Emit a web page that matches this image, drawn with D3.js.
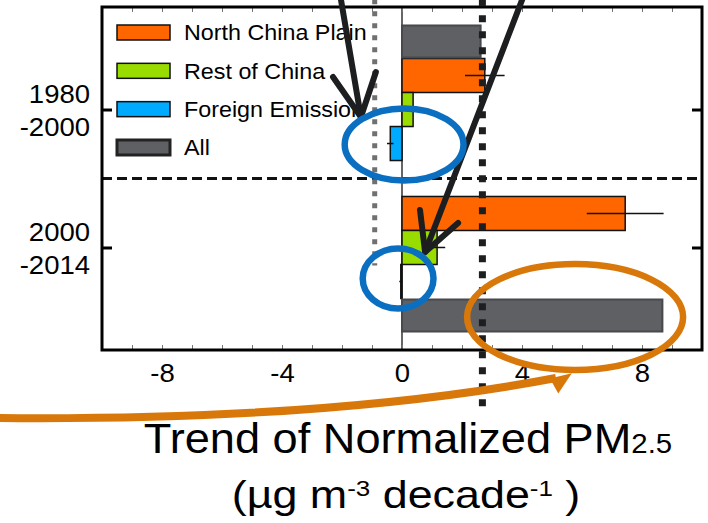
<!DOCTYPE html>
<html>
<head>
<meta charset="utf-8">
<script src="https://cdn.jsdelivr.net/npm/d3@7"></script>
<style>
  body { margin: 0; background: #fff; }
  svg { display: block; font-family: "Liberation Sans", Arial, Helvetica, sans-serif; }
</style>
</head>
<body>
<svg width="708" height="523"></svg>
<script>
// periods on the y axis (top to bottom)
var periods = ["1980-2000", "2000-2014"];
var periodLabels = [["1980", "-2000"], ["2000", "-2014"]];

var series = ["North China Plain", "Rest of China", "Foreign Emission", "All"];
var seriesColors = ["#ff6600", "#99dd00", "#00aaff", "#5f6064"];

// trend of normalized PM2.5 (ug m-3 decade-1), one value per period
var ncpTrend = [2.76, 7.44];
var ncpError = [0.66, 1.28];
var restTrend = [0.37, 1.17];
var restError = [0, 0.27];
var foreignTrend = [-0.39, -0.04];
var foreignError = [0.11, 0.05];
var allTrend = [2.62, 8.68];
var allError = [0, 0];

// bar order inside each period, top to bottom
var barOrder = [
  ["All", "North China Plain", "Rest of China", "Foreign Emission"],
  ["North China Plain", "Rest of China", "Foreign Emission", "All"]
];

var xTickLabels = [-8, -4, 0, 4, 8];
var xMinorTicks = d3.range(-10, 11, 1);

// dotted reference lines: trend value, from / to (in period units)
var refValues = [-0.91, 2.68];
var refFrom = [-0.8, -0.8];
var refTo = [1.13, 2.15];

// slide annotations, x in trend units, y in period units (0 = first period, 1 = second)
var arrowLines = [
  [[-2.03, -0.79], [-1.37, 0.054]],
  [[-2.3, -0.236], [-1.37, 0.054], [-0.87, -0.272]],
  [[4.03, -0.81], [0.77, 1.033]],
  [[0.6, 0.728], [0.77, 1.033], [1.87, 0.822]]
];
var blueRings = [[0.07, 0.254, 1.98, 0.261], [-0.13, 1.225, 1.18, 0.217]];
var orangeRing = [5.77, 1.504, 3.6, 0.384];
var orangeCurve = [[-13.47, 2.236], [-2.4, 2.257], [5.13, 1.946]];
var orangeHead = [[4.93, 1.949], [5.66, 1.912], [5.21, 2.059]];

var svg = d3.select("svg"),
  margin = { top: 7, right: 6, bottom: 173, left: 102 },
  width = +svg.attr("width") - margin.left - margin.right,
  height = +svg.attr("height") - margin.top - margin.bottom,
  g = svg
    .append("g")
    .attr("transform", "translate(" + margin.left + "," + margin.top + ")");

var x = d3.scaleLinear().domain([-10, 10]).range([0, width]);

var y = d3.scalePoint().domain(periods).range([0, height]).padding(0.743);

// period units -> pixels, used by the annotations
var yU = d3.scaleLinear().domain([0, 1]).range([y(periods[0]), y(periods[1])]);

var inner = d3.scaleBand().domain(d3.range(4)).range([0, y.step() * 0.986]);

var color = d3.scaleOrdinal().domain(series).range(seriesColors);

var trendTable = [ncpTrend, restTrend, foreignTrend, allTrend];
var errorTable = [ncpError, restError, foreignError, allError];

var bars = [];
periods.forEach(function (p, i) {
  series.forEach(function (s, j) {
    bars.push({ period: p, i: i, name: s, value: trendTable[j][i], err: errorTable[j][i] });
  });
});

function barY(d) {
  var order = barOrder[d.i];
  var slot = order.indexOf(d.name);
  var mid = order.indexOf("Rest of China");
  return y(d.period) + inner(slot) - inner(mid) - inner.bandwidth() / 2;
}

// zero line
g.append("line")
  .attr("x1", x(0)).attr("x2", x(0))
  .attr("y1", 0).attr("y2", height)
  .attr("stroke", "#333")
  .attr("stroke-width", 1.5);

// bars
g.append("g")
  .selectAll("rect")
  .data(bars)
  .enter()
  .append("rect")
  .attr("x", function (d) { return x(Math.min(0, d.value)); })
  .attr("y", function (d) { return barY(d) + (d.name == "All" ? 1 : 0); })
  .attr("width", function (d) { return Math.abs(x(d.value) - x(0)); })
  .attr("height", function (d) { return inner.bandwidth() - (d.name == "All" ? 2 : 0); })
  .attr("fill", function (d) { return color(d.name); })
  .attr("stroke", function (d) { return d.name == "All" ? "#48494c" : "#111"; })
  .attr("stroke-width", function (d) { return d.name == "All" ? 2 : 1.5; });

// error bars
g.append("g")
  .selectAll("line")
  .data(bars.filter(function (d) { return d.err > 0; }))
  .enter()
  .append("line")
  .attr("x1", function (d) { return x(d.value - d.err); })
  .attr("x2", function (d) { return x(d.value + d.err); })
  .attr("y1", function (d) { return barY(d) + inner.bandwidth() / 2; })
  .attr("y2", function (d) { return barY(d) + inner.bandwidth() / 2; })
  .attr("stroke", "#111")
  .attr("stroke-width", 1.5);

// dashed separator between the periods
var sepY = (y(periods[0]) + y(periods[1])) / 2;
g.append("line")
  .attr("x1", 0).attr("x2", width)
  .attr("y1", sepY).attr("y2", sepY)
  .attr("stroke", "#111")
  .attr("stroke-width", 3)
  .attr("stroke-dasharray", "10,5");

// axes: minor ticks inside the frame
var bottomAxis = g.append("g")
  .attr("class", "axis")
  .attr("transform", "translate(0," + height + ")")
  .call(
    d3.axisBottom(x)
      .tickValues(xMinorTicks)
      .tickSize(-5)
      .tickFormat(function (d) { return xTickLabels.indexOf(d) >= 0 ? String(d) : ""; })
  );
bottomAxis.select(".domain").remove();
bottomAxis.selectAll("line").attr("stroke", "#777");
bottomAxis.selectAll("text")
  .attr("y", 32)
  .attr("dy", 0)
  .attr("fill", "#000")
  .attr("font-family", "Liberation Sans, Arial, sans-serif")
  .attr("font-size", 25)
  .attr("transform", "scale(1.1,1)");

var topAxis = g.append("g")
  .call(d3.axisTop(x).tickValues(xMinorTicks).tickSize(-5).tickFormat(""));
topAxis.select(".domain").remove();
topAxis.selectAll("line").attr("stroke", "#777");

var leftAxis = g.append("g").call(d3.axisLeft(y).tickSize(-10).tickFormat(""));
leftAxis.select(".domain").remove();
leftAxis.selectAll("line").attr("stroke", "#000").attr("stroke-width", 3);

var rightAxis = g.append("g")
  .attr("transform", "translate(" + width + ",0)")
  .call(d3.axisRight(y).tickSize(-10).tickFormat(""));
rightAxis.select(".domain").remove();
rightAxis.selectAll("line").attr("stroke", "#000").attr("stroke-width", 3);

// period labels, two lines each
var yLabel = g.append("g")
  .selectAll("text")
  .data(periods)
  .enter()
  .append("text")
  .attr("text-anchor", "end")
  .attr("font-size", 25)
  .attr("transform", function (d) { return "translate(-12," + y(d) + ") scale(1.1,1)"; });
yLabel.append("tspan")
  .attr("x", 0).attr("y", -6.5)
  .text(function (d, i) { return periodLabels[i][0]; });
yLabel.append("tspan")
  .attr("x", 0).attr("y", 26.5)
  .text(function (d, i) { return periodLabels[i][1]; });

// frame
g.append("rect")
  .attr("width", width)
  .attr("height", height)
  .attr("fill", "none")
  .attr("stroke", "#000")
  .attr("stroke-width", 3);

// legend
var legend = g.append("g")
  .attr("font-size", 22)
  .selectAll("g")
  .data(series)
  .enter()
  .append("g")
  .attr("transform", function (d, i) { return "translate(15," + (25.5 + i * 38.33) + ")"; });

legend.append("rect")
  .attr("y", -7.5)
  .attr("width", 53)
  .attr("height", 15)
  .attr("fill", color)
  .attr("stroke", function (d) { return d == "All" ? "#222" : "#111"; })
  .attr("stroke-width", function (d) { return d == "All" ? 3 : 1.5; });

legend.append("text")
  .attr("transform", "translate(67,0) scale(1.06,1)")
  .attr("dy", "0.35em")
  .text(function (d) { return d; });

// dotted reference lines
g.append("g")
  .selectAll("line")
  .data(refValues)
  .enter()
  .append("line")
  .attr("x1", function (d) { return x(d); })
  .attr("x2", function (d) { return x(d); })
  .attr("y1", function (d, i) { return yU(refFrom[i]); })
  .attr("y2", function (d, i) { return yU(refTo[i]); })
  .attr("stroke", function (d, i) { return i == 0 ? "#707070" : "#1c1e20"; })
  .attr("stroke-width", function (d, i) { return i == 0 ? 5 : 7; })
  .attr("stroke-dasharray", function (d, i) { return i == 0 ? "5,7" : "7,9"; });

// axis title
var title = svg.append("g")
  .attr("text-anchor", "middle")
  .attr("fill", "#000");

var t1 = title.append("text")
  .attr("font-size", 43)
  .attr("transform", "translate(408,453) scale(1.05,1)");
t1.append("tspan").text("Trend of Normalized PM");
t1.append("tspan").attr("font-size", 28).text("2.5");

var t2 = title.append("text")
  .attr("font-size", 38)
  .attr("transform", "translate(406,508) scale(1.18,1)");
t2.append("tspan").text("(µg m");
t2.append("tspan").attr("font-size", 22).attr("dy", -12).text("-3");
t2.append("tspan").attr("dy", 12).text(" decade");
t2.append("tspan").attr("font-size", 22).attr("dy", -12).text("-1");
t2.append("tspan").attr("dy", 12).text(" )");

// annotations
var pt = function (p) { return [x(p[0]), yU(p[1])]; };

var ann = g.append("g").attr("fill", "none");

ann.selectAll(".arrow")
  .data(arrowLines)
  .enter()
  .append("path")
  .attr("class", "arrow")
  .attr("d", function (d) { return d3.line()(d.map(pt)); })
  .attr("stroke", "#1c1e20")
  .attr("stroke-width", 6)
  .attr("stroke-linecap", "round")
  .attr("stroke-linejoin", "round");

ann.selectAll(".ring")
  .data(blueRings)
  .enter()
  .append("ellipse")
  .attr("class", "ring")
  .attr("cx", function (d) { return x(d[0]); })
  .attr("cy", function (d) { return yU(d[1]); })
  .attr("rx", function (d) { return x(d[2]) - x(0); })
  .attr("ry", function (d) { return yU(d[3]) - yU(0); })
  .attr("stroke", "#0b6fc1")
  .attr("stroke-width", 6.5);

ann.append("ellipse")
  .attr("cx", x(orangeRing[0]))
  .attr("cy", yU(orangeRing[1]))
  .attr("rx", x(orangeRing[2]) - x(0))
  .attr("ry", yU(orangeRing[3]) - yU(0))
  .attr("stroke", "#d9780a")
  .attr("stroke-width", 6.5);

var c = orangeCurve.map(pt);
ann.append("path")
  .attr("d", "M" + c[0] + "Q" + c[1] + " " + c[2])
  .attr("stroke", "#d9780a")
  .attr("stroke-width", 8);

ann.append("path")
  .attr("d", d3.line()(orangeHead.map(pt)) + "Z")
  .attr("fill", "#d9780a");
</script>
</body>
</html>
